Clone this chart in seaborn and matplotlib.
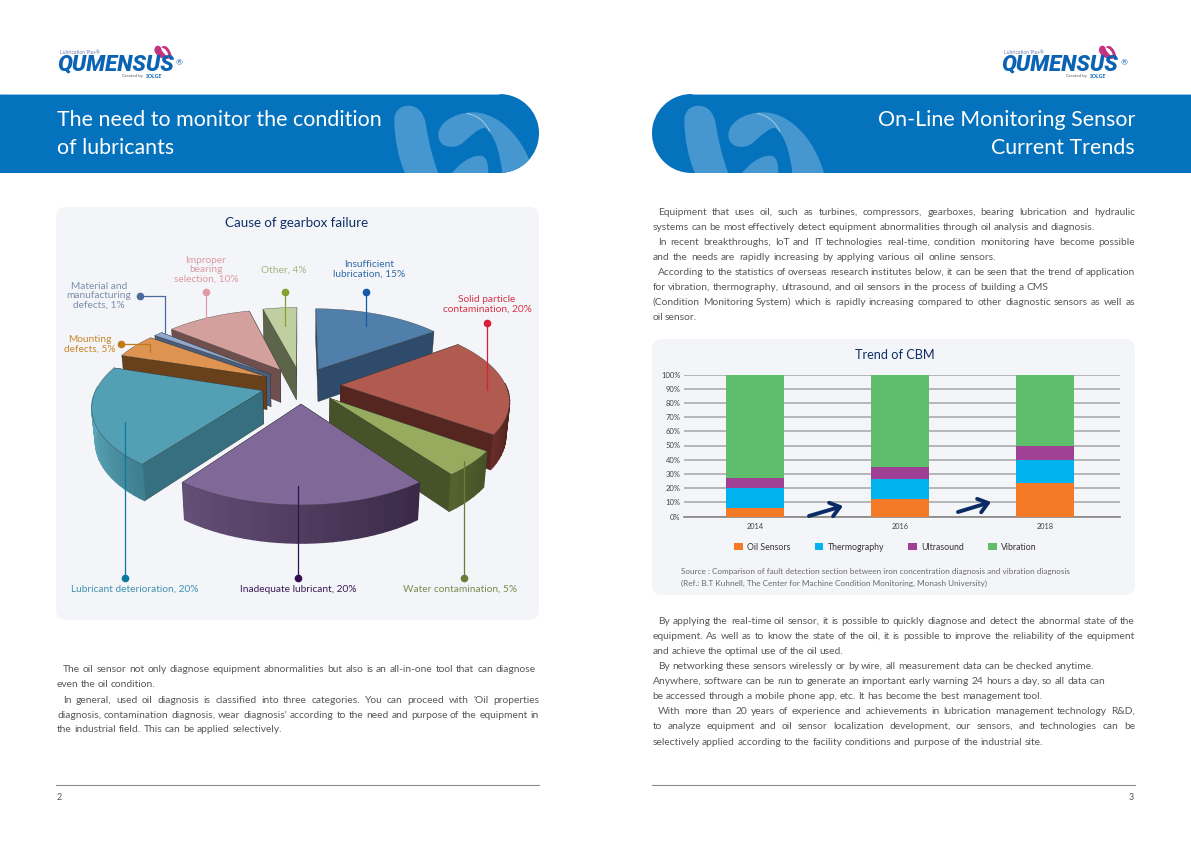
import numpy as np
import pandas as pd
import seaborn as sns
import matplotlib.pyplot as plt
from matplotlib.colors import to_rgb
from matplotlib.patches import FancyBboxPatch, PathPatch, Patch, Polygon
from matplotlib.path import Path

# stacked bars
years = ["2014", "2016", "2018"]
oil_sensors = [6, 12, 23.5]
thermography = [14, 14.5, 16.5]
ultrasound = [7, 8.5, 10]
vibration = [73, 65, 50]
series_names = ["Oil Sensors", "Thermography", "Ultrasound", "Vibration"]
series_colors = ["#f47a28", "#00b2ee", "#a04095", "#5fbe6b"]
pct_ticks = list(range(0, 101, 10))

# exploded pie, clockwise from the top
causes = ["Insufficient\nlubrication, 15%", "Solid particle\ncontamination, 20%", "Water contamination, 5%",
          "Inadequate lubricant, 20%", "Lubricant deterioration, 20%", "Mounting\ndefects, 5%",
          "Material and\nmanufacturing\ndefects, 1%", "Improper\nbearing\nselection, 10%", "Other, 4%"]
shares = [15, 20, 5, 20, 20, 5, 1, 10, 4]
top_cols = ["#517fab", "#b05a50", "#97ab5f", "#806898", "#53a0b5", "#de9450", "#8fa8cc", "#d4a09d", "#c0cfa0"]
wall_cols = ["#2f4b6b", "#552520", "#465228", "#3c2c4a", "#356f80", "#684019", "#4a5e7c", "#6f4f4d", "#5c644a"]
arc_left = ["#3c5c80", "#6b2f2a", "#56662f", "#655078", "#5aa6b8", "#7a4c20", "#5a6e8c", "#7f5d5b", "#6c7458"]
arc_right = ["#2f4b6b", "#4c201c", "#465228", "#3a2a48", "#3e7f90", "#684019", "#4a5e7c", "#6f4f4d", "#5c644a"]
label_cols = ["#2e6aa6", "#d8334a", "#7c8a50", "#3a1a55", "#3d93b0", "#c8862a", "#7b8eab", "#dc9aa3", "#a3b680"]
line_cols = ["#1458a8", "#d8203c", "#6c7c38", "#34104e", "#0a7aa0", "#c07a18", "#4a6a9a", "#e09aa8", "#85a030"]
draw_order = [8, 0, 7, 6, 5, 1, 4, 2, 3]

left_text = [
    ("The oil sensor not only diagnose equipment abnormalities but also is an all-in-one tool that can diagnose", 63, 536, 669),
    ("even the oil condition.", 57, 155, 684),
    ("In general, used oil diagnosis is classified into three categories. You can proceed with 'Oil properties", 63, 539, 700),
    ("diagnosis, contamination diagnosis, wear diagnosis' according to the need and purpose of the equipment in", 57, 539, 715),
    ("the industrial field. This can be applied selectively.", 57, 282, 729),
]
right_text = [
    ("Equipment that uses oil, such as turbines, compressors, gearboxes, bearing lubrication and hydraulic", 658, 1135, 212),
    ("systems can be most effectively detect equipment abnormalities through oil analysis and diagnosis.", 652.5, 1095, 227),
    ("In recent breakthroughs, IoT and IT technologies real-time, condition monitoring have become possible", 658, 1135, 242),
    ("and the needs are rapidly increasing by applying various oil online sensors.", 652.5, 996, 257),
    ("According to the statistics of overseas research institutes below, it can be seen that the trend of application", 658, 1135, 272),
    ("for vibration, thermography, ultrasound, and oil sensors in the process of building a CMS", 652.5, 1048, 287),
    ("(Condition Monitoring System) which is rapidly increasing compared to other diagnostic sensors as well as", 652.5, 1135, 302),
    ("oil sensor.", 652.5, 694, 317),
    ("By applying the real-time oil sensor, it is possible to quickly diagnose and detect the abnormal state of the", 658, 1135, 621),
    ("equipment. As well as to know the state of the oil, it is possible to improve the reliability of the equipment", 652.5, 1135, 636),
    ("and achieve the optimal use of the oil used.", 652.5, 843, 651),
    ("By networking these sensors wirelessly or by wire, all measurement data can be checked anytime.", 658, 1094, 666),
    ("Anywhere, software can be run to generate an important early warning 24 hours a day, so all data can", 652.5, 1105, 681),
    ("be accessed through a mobile phone app, etc. It has become the best management tool.", 652.5, 1043, 696),
    ("With more than 20 years of experience and achievements in lubrication management technology R&D,", 658, 1135, 711),
    ("to analyze equipment and oil sensor localization development, our sensors, and technologies can be", 652.5, 1135, 726),
    ("selectively applied according to the facility conditions and purpose of the industrial site.", 652.5, 1043, 742),
]

sns.set_theme(style="white")
plt.rcParams['font.family'] = ['Lato', 'DejaVu Sans']

fig = plt.figure(figsize=(11.91, 8.42), dpi=100)
page = fig.add_axes([0, 0, 1, 1])
page.set_xlim(0, 1191)
page.set_ylim(842, 0)
page.axis("off")
rend = fig.canvas.get_renderer()

BLUE = "#0472bc"
BLOB = "#4696cf"
NAVY = "#0e2f66"
BODY = "#585858"

# swirl outlines, cubic segments, measured on a 3x crop of the banner
swirl_1 = [(133, 105), (133, 75), (155, 62), (175, 62), (205, 62), (222, 85), (228, 120), (235, 170), (250, 225),
           (265, 265), (232, 265), (198, 265), (165, 265), (145, 220), (133, 160), (133, 105)]
swirl_2 = [(265, 150), (265, 115), (310, 82), (370, 82), (440, 82), (520, 150), (552, 265), (520, 265), (490, 265),
           (457, 265), (450, 205), (435, 150), (405, 128), (385, 130), (365, 150), (340, 172), (315, 195), (265, 190),
           (265, 150)]
swirl_3 = [(305, 265), (330, 235), (360, 212), (390, 212), (410, 212), (415, 235), (415, 265), (380, 265), (340, 265),
           (305, 265)]
swirl_line = [(350, 85), (385, 92), (405, 110), (420, 140)]


def justified(line, x0, x1, y):
    # word by word so the line ends where the reference line ends
    words = line.split(" ")
    items = [page.text(x0, y + 3, w, fontsize=7.4, color=BODY, va="baseline") for w in words]
    widths = [t.get_window_extent(rend).width for t in items]
    gap = max((x1 - x0 - sum(widths)) / (len(words) - 1), 1.7)
    x = x0
    for t, w in zip(items, widths):
        t.set_x(x)
        x += w + gap


def curve(points, color, dx=0.0, dy=0.0, scale=1.0, clip=None, fill=True):
    pts = [(dx + px * scale, dy + py * scale) for px, py in points]
    codes = [Path.MOVETO] + [Path.CURVE4] * (len(pts) - 1)
    p = PathPatch(Path(pts, codes), fc=color if fill else "none", ec="none" if fill else color, lw=0.7, zorder=2)
    page.add_patch(p)
    if clip is not None:
        p.set_clip_path(clip)


def banner(flip, swirl_x):
    # rounded end towards the middle of the spread
    x = lambda v: flip - v if flip else v
    pts = [(x(0), 94), (x(499), 94), (x(522), 94), (x(539), 112), (x(539), 133),
           (x(539), 155), (x(522), 173), (x(499), 173), (x(0), 173), (x(0), 94)]
    codes = [Path.MOVETO, Path.LINETO, Path.CURVE4, Path.CURVE4, Path.CURVE4,
             Path.CURVE4, Path.CURVE4, Path.CURVE4, Path.LINETO, Path.CLOSEPOLY]
    shape = PathPatch(Path(pts, codes), fc=BLUE, ec="none", zorder=1)
    page.add_patch(shape)
    page.plot([x(0), x(499)], [93.6, 93.6], color="#a9d0ea", lw=0.6, zorder=1)
    for s in [swirl_1, swirl_2, swirl_3]:
        curve(s, BLOB, swirl_x, 85, 1 / 3, clip=shape)
    curve(swirl_line, "#a3cbe8", swirl_x, 85, 1 / 3, fill=False)


def logo(dx):
    page.text(57 + dx, 64.5, "QUMENSUS", fontsize=16, fontweight="black", style="italic",
              color="#0b63b3", va="center", family=["Roboto", "DejaVu Sans"])
    page.text(60 + dx, 53, "Lubrication Plus®", fontsize=3.6, color="#6a7fb5", va="center")
    page.text(122 + dx, 76.5, "Created by", fontsize=3.2, color="#555555", va="center")
    page.text(145 + dx, 76.5, "SOLGE", fontsize=4.0, fontweight="bold", style="italic", color="#0b63b3", va="center")
    page.text(176 + dx, 63, "®", fontsize=6, color="#0b63b3", va="center")
    # small swirl: 3x crop of the logo
    pink = [(328, 38), (328, 22), (342, 18), (348, 30), (350, 42), (362, 50), (372, 62), (355, 65), (335, 58), (328, 38)]
    pale = [(348, 28), (358, 18), (375, 25), (382, 62), (378, 65), (376, 65), (372, 62), (370, 40), (360, 30), (348, 28)]
    curve(pink, "#c4347e", 45 + dx, 38, 1 / 3)
    curve(pale, "#c4347e", 45 + dx, 38, 1 / 3)


# page dressing
banner(None, 350)
banner(1191, 640)
logo(0)
logo(944.5)
TITLE_SIZE = 15.4
page.text(57, 120, "The need to monitor the condition", fontsize=TITLE_SIZE, color="white", va="center", zorder=3)
page.text(57, 148, "of lubricants", fontsize=TITLE_SIZE, color="white", va="center", zorder=3)
page.text(1135, 120, "On-Line Monitoring Sensor", fontsize=TITLE_SIZE, color="white", va="center", ha="right", zorder=3)
page.text(1135, 148, "Current Trends", fontsize=TITLE_SIZE, color="white", va="center", ha="right", zorder=3)

for x0, y0, w, h in [(56, 207, 483, 413), (652, 339, 483, 256)]:
    page.add_patch(FancyBboxPatch((x0 + 8, y0 + 8), w - 16, h - 16, boxstyle="round,pad=8,rounding_size=10",
                                  fc="#f4f5f8", ec="none", zorder=1))

for line, x0, x1, y in left_text + right_text:
    justified(line, x0, x1, y)

for x0, x1, num, tx in [(56, 539, "2", 57), (652, 1135, "3", 1129)]:
    page.plot([x0, x1], [785, 785], color="#8a8a8a", lw=0.8)
    page.text(tx, 798, num, fontsize=6.5, color="#555555", va="center")

# pie
page.text(297, 223, "Cause of gearbox failure", fontsize=9.6, color=NAVY, ha="center", va="center", zorder=5)

CX, CY = 301, 385
RX, RY = 165, 76
PERSP = 0.173
EXPLODE = 0.24
DEPTH = 33


def project(gx, gy, z=0.0):
    s = 1 / (1 - PERSP * gy)
    shrink = 1 - 0.018 * z
    return CX + RX * gx * s * shrink, CY + RY * gy * s + z * DEPTH * s ** 0.6


cum = np.cumsum([0] + shares) * 3.6
for i in draw_order:
    t0, t1 = np.radians(cum[i]), np.radians(cum[i + 1])
    mid = (t0 + t1) / 2
    ox, oy = EXPLODE * np.sin(mid), -EXPLODE * np.cos(mid)
    arc = np.linspace(t0, t1, max(int(shares[i] * 1.5), 4))
    gx = ox + np.sin(arc)
    gy = oy - np.cos(arc)
    top = [project(ox, oy)] + [project(a, b) for a, b in zip(gx, gy)]
    # radial walls back to front, the outer wall and the top go over them
    for a, b in sorted([(gx[0], gy[0]), (gx[-1], gy[-1])], key=lambda p: p[1]):
        wall = [project(ox, oy), project(a, b), project(a, b, 1), project(ox, oy, 1)]
        page.add_patch(Polygon(wall, fc=wall_cols[i], ec="#2a2a2a", lw=0.25, zorder=3))
    c0, c1 = np.array(to_rgb(arc_left[i])), np.array(to_rgb(arc_right[i]))
    span = np.ptp(gx)
    for k in range(len(arc) - 1):
        if np.cos(arc[k]) > 0.05:
            continue
        f = (gx[k] - gx.min()) / span
        col = c0 * (1 - f) + c1 * f
        quad = [project(gx[k], gy[k]), project(gx[k + 1], gy[k + 1]),
                project(gx[k + 1], gy[k + 1], 1), project(gx[k], gy[k], 1)]
        page.add_patch(Polygon(quad, fc=col, ec=col, lw=1.0, zorder=3))
    page.add_patch(Polygon(top, fc=top_cols[i], ec="#3a3a3a", lw=0.25, zorder=3))

# leader: dot, then the way into the slice
leaders = [[(366, 292), (366, 326)], [(487, 323), (487, 390)], [(464, 578), (464, 461)],
           [(298, 578), (298, 486)], [(125, 578), (125, 422)], [(121, 344), (150, 344), (150, 352)],
           [(140, 296), (165, 296), (165, 333)], [(206, 292), (206, 326)], [(285, 292), (285, 326)]]
label_pos = [(369, 269.5), (487, 304.5), (460, 589), (298, 589), (135, 589), (90, 344.5), (99, 296), (206, 270), (284, 270)]
for i, path in enumerate(leaders):
    xs, ys = zip(*path)
    page.plot(xs, ys, color=line_cols[i], lw=0.9, zorder=4)
    page.plot(xs[0], ys[0], "o", color=line_cols[i], ms=4.5, zorder=4)
    page.text(*label_pos[i], causes[i], color=label_cols[i], fontsize=7.3, ha="center", va="center",
              linespacing=1.05, zorder=4)

# stacked chart, pixel box of the reference
page.text(895, 355, "Trend of CBM", fontsize=9.2, color=NAVY, ha="center", va="center", zorder=5)
ax = fig.add_axes([684 / 1191, 1 - 516.5 / 842, 436 / 1191, 142 / 842])
ax.patch.set_alpha(0)

stack = np.cumsum([oil_sensors, thermography, ultrasound, vibration], axis=0)
df = pd.DataFrame({"year": years * 4, "top": stack.ravel(), "series": np.repeat(series_names, 3)})
for name, col in reversed(list(zip(series_names, series_colors))):
    sns.barplot(data=df[df["series"] == name], x="year", y="top", color=col, width=0.4,
                saturation=1, linewidth=0, zorder=3, ax=ax)

ax.set_xlim(-0.49, 2.517)
ax.set_ylim(0, 100)
ax.set_yticks(pct_ticks)
ax.set_yticklabels([f"{v}%" for v in pct_ticks])
ax.set_xlabel("")
ax.set_ylabel("")
ax.grid(axis="y", color="#a4a5a5", lw=1.1, zorder=0)
ax.grid(axis="x", visible=False)
ax.set_axisbelow(True)
ax.tick_params(axis="y", length=0, labelsize=5.5, labelcolor="#444444", pad=2.5)
ax.tick_params(axis="x", length=0, labelsize=5.3, labelcolor="#444444", pad=5)
sns.despine(ax=ax, left=True)
ax.spines["bottom"].set_color("#8a8a8a")

for start, end in [((809, 516), (843, 506)), ((958, 512), (991, 502))]:
    ax.annotate("", xy=end, xytext=start, xycoords=page.transData, textcoords=page.transData,
                arrowprops=dict(arrowstyle="->,head_length=0.55,head_width=0.42", color="#0a2a66", lw=2.8,
                                shrinkA=0, shrinkB=0), annotation_clip=False)

handles = [Patch(fc=c, ec="none") for c in series_colors]
page.legend(handles, series_names, ncol=4, frameon=False, fontsize=6.3, labelcolor="#333333",
            handlelength=1.0, handleheight=1.0, handletextpad=0.5, columnspacing=2.75,
            loc="center left", bbox_to_anchor=(734 / 1191, 1 - 547 / 842), borderaxespad=0, borderpad=0)

page.text(681, 571.5, "Source : Comparison of fault detection section between iron concentration diagnosis and vibration diagnosis",
          fontsize=5.9, color="#6a6a6a", va="center", zorder=5)
page.text(681, 583.5, "(Ref.: B.T Kuhnell, The Center for Machine Condition Monitoring, Monash University)",
          fontsize=5.9, color="#6a6a6a", va="center", zorder=5)

fig.savefig("out.png", dpi=100)
plt.close(fig)
